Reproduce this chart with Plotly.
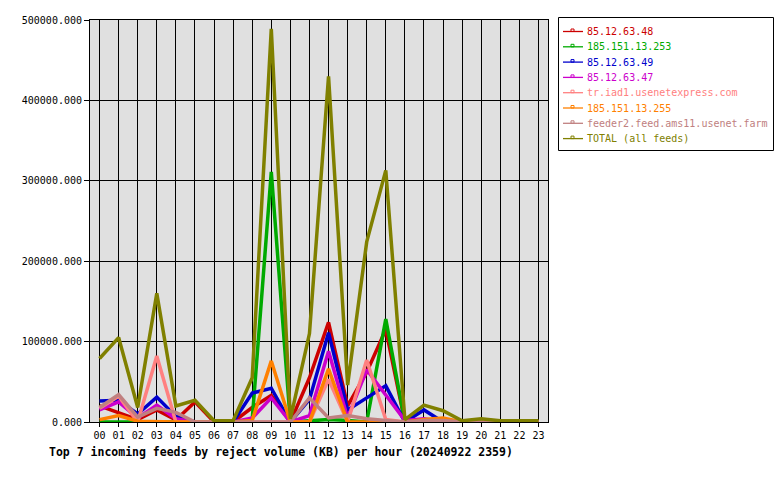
import plotly.graph_objects as go

hours = ["%02d" % h for h in range(24)]

names = [
    "85.12.63.48",
    "185.151.13.253",
    "85.12.63.49",
    "85.12.63.47",
    "tr.iad1.usenetexpress.com",
    "185.151.13.255",
    "feeder2.feed.ams11.usenet.farm",
    "TOTAL (all feeds)",
]
colors = ["#cc0000", "#00aa00", "#0000cc", "#cc00cc", "#ff8080", "#ff8000", "#c08080", "#808000"]

feed_48 = [20000, 11000, 3000, 15000, 2500, 25000, 0, 0, 18000, 33000, 0, 55000,
           124000, 20000, 62000, 115000, 0, 2000, 0, 0, 0, 0, 0, 0]
feed_253 = [0, 0, 0, 0, 0, 0, 0, 0, 3000, 311000, 0, 1000,
            3000, 2000, 0, 128000, 0, 0, 0, 0, 0, 0, 0, 0]
feed_49 = [26000, 27000, 10000, 31000, 7000, 0, 0, 0, 36000, 42000, 0, 28000,
           111000, 15000, 30000, 45000, 0, 15000, 0, 0, 0, 0, 0, 0]
feed_47 = [15000, 25000, 5000, 21000, 4000, 0, 0, 0, 5000, 30000, 0, 8000,
           88000, 5000, 65000, 33000, 2000, 4000, 0, 0, 0, 0, 0, 0]
feed_iad1 = [17000, 32000, 0, 82000, 0, 0, 0, 0, 0, 0, 0, 0,
             53000, 0, 77000, 3000, 0, 0, 0, 0, 0, 0, 0, 0]
feed_255 = [3000, 8000, 1000, 0, 0, 0, 0, 0, 2000, 76000, 0, 0,
            66000, 0, 0, 0, 0, 3000, 5000, 0, 0, 0, 0, 0]
feed_ams11 = [18000, 34000, 6000, 17000, 12000, 0, 0, 0, 0, 1000, 0, 30000,
              5000, 8000, 4000, 2000, 0, 2000, 2000, 0, 0, 0, 0, 0]
total = [79000, 105000, 18000, 160000, 20000, 27000, 1500, 1500, 55000, 489000, 4000, 110000,
         430000, 46000, 224000, 313000, 3000, 21000, 14000, 1500, 4000, 1500, 1500, 1500]

series = [feed_48, feed_253, feed_49, feed_47, feed_iad1, feed_255, feed_ams11, total]
yticks = [0, 100000, 200000, 300000, 400000, 500000]

# plot area in pixels
L, R, T, B = 90, 548, 20, 422
W, H = R - L, B - T


def px(x):
    return (x - L) / W


def py(y):
    return (B - y) / H


fig = go.Figure()
for name, col, vals in zip(names, colors, series):
    fig.add_trace(go.Scatter(x=hours, y=vals, mode="lines", name=name,
                             line=dict(color=col, width=3.5), showlegend=False))

mono = "DejaVu Sans Mono"
shapes = []
annotations = []
# legend box
shapes.append(dict(type="rect", xref="paper", yref="paper",
                   x0=px(558.5), x1=px(773.5), y0=py(17.5), y1=py(150.5),
                   line=dict(color="black", width=1), fillcolor="white", layer="above"))
for i, (name, col) in enumerate(zip(names, colors)):
    yy = 31.5 + i * 15.3
    shapes.append(dict(type="line", xref="paper", yref="paper",
                       x0=px(563), x1=px(583), y0=py(yy), y1=py(yy),
                       line=dict(color=col, width=1.3), layer="above"))
    shapes.append(dict(type="rect", xref="paper", yref="paper",
                       x0=px(571), x1=px(574), y0=py(yy), y1=py(yy - 2.5),
                       line=dict(color=col, width=1), fillcolor="rgba(0,0,0,0)", layer="above"))
    annotations.append(dict(xref="paper", yref="paper", x=px(585), y=py(yy),
                            xanchor="left", yanchor="middle", showarrow=False,
                            text=name, font=dict(family=mono, size=10, color=col)))

annotations.append(dict(xref="paper", yref="paper", x=px(47), y=py(452),
                        xanchor="left", yanchor="middle", showarrow=False,
                        text="<b>Top 7 incoming feeds by reject volume (KB) per hour (20240922 2359)</b>",
                        font=dict(family=mono, size=11.5, color="black")))

fig.update_layout(
    width=780, height=480,
    margin=dict(l=L, r=780 - R, t=T, b=480 - B),
    paper_bgcolor="white", plot_bgcolor="#e0e0e0",
    showlegend=False,
    shapes=shapes, annotations=annotations,
    font=dict(family=mono, size=10, color="black"),
)
fig.update_xaxes(type="category", range=[-0.5, 23.5], showgrid=True, gridcolor="black", gridwidth=1,
                 showline=True, linecolor="black", linewidth=1, mirror=True,
                 ticks="outside", ticklen=4, tickcolor="black",
                 tickfont=dict(family=mono, size=10, color="black"), zeroline=False)
fig.update_yaxes(range=[0, 500000], tickvals=yticks, tickformat=".3f",
                 showgrid=True, gridcolor="black", gridwidth=1,
                 showline=True, linecolor="black", linewidth=1, mirror=True,
                 ticks="outside", ticklen=5, tickcolor="black",
                 tickfont=dict(family=mono, size=10, color="black"), zeroline=False)

fig.write_html("out.html")
